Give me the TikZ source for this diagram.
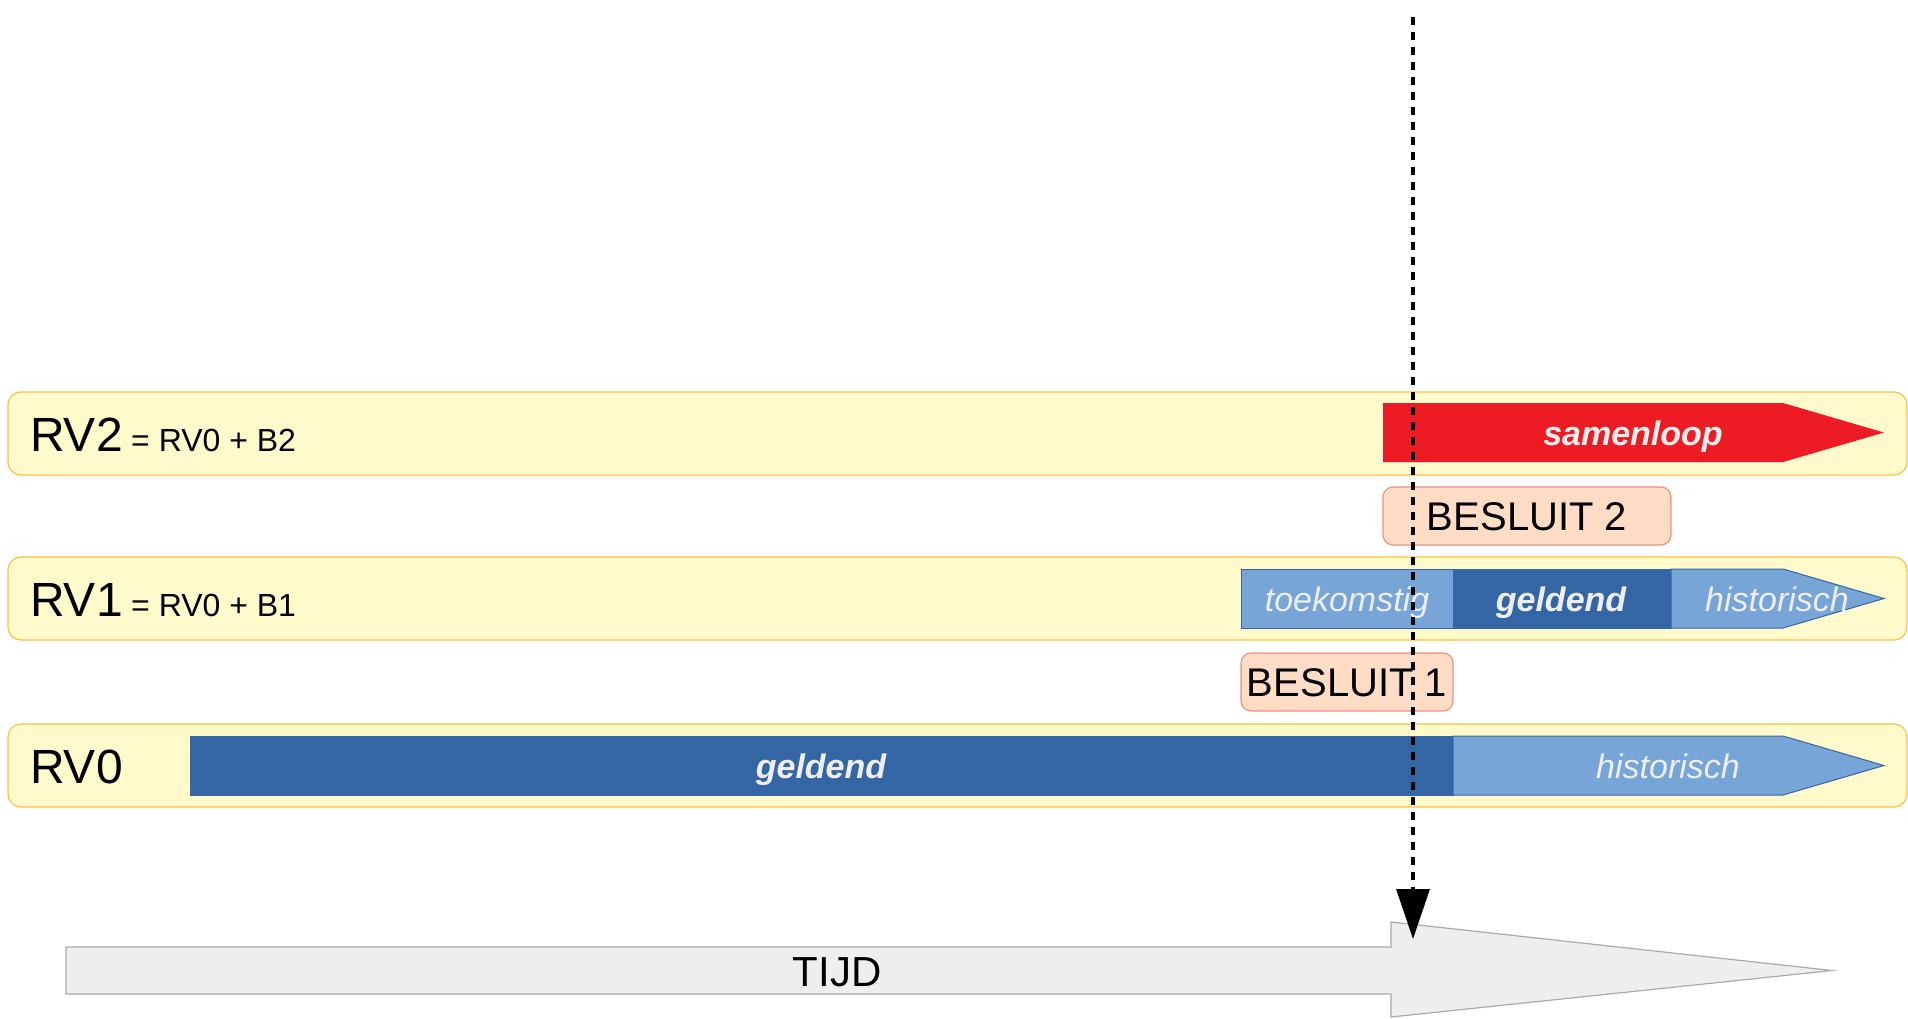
\documentclass[tikz,border=0pt]{standalone}
\usepackage{fontspec}
\setmainfont{Liberation Sans}
\usetikzlibrary{arrows.meta}
\definecolor{bandfill}{HTML}{FFFACC}
\definecolor{banddraw}{HTML}{FFBF40}
\definecolor{besfill}{HTML}{FFDCC6}
\definecolor{besdraw}{HTML}{F0907E}
\definecolor{darkblue}{HTML}{3465A4}
\definecolor{lightblue}{HTML}{78A5D8}
\definecolor{redarrow}{HTML}{ED1C24}
\definecolor{tijdfill}{HTML}{EEEEEE}
\definecolor{tijddraw}{HTML}{AAAAAA}
\definecolor{labtext}{HTML}{EEEEEE}
\tikzset{
  band/.style={draw=banddraw, fill=bandfill, line width=1.2pt, rounded corners=13pt},
  bigname/.style={anchor=base west, inner sep=0pt, font=\fontsize{48}{50}\selectfont},
  smallname/.style={anchor=base west, inner sep=0pt, font=\fontsize{32}{36}\selectfont},
  besbox/.style={draw=besdraw, fill=besfill, line width=1.2pt, rounded corners=10pt},
  bestext/.style={anchor=base, inner sep=0pt, font=\fontsize{40}{44}\selectfont},
  darkseg/.style={fill=darkblue, draw=darkblue, line width=1pt},
  lightseg/.style={fill=lightblue, draw=darkblue, line width=1pt},
  segtext/.style={anchor=base, inner sep=0pt, text=labtext, font=\fontsize{34}{38}\selectfont\itshape},
  segbold/.style={anchor=base, inner sep=0pt, text=labtext, font=\fontsize{34}{38}\selectfont\bfseries\itshape},
  tijdarrow/.style={fill=tijdfill, draw=tijddraw, line width=1.2pt},
  nowline/.style={line width=3.5pt, dash pattern=on 8pt off 7pt, -{Triangle[width=33pt,length=50pt]}}
}
\begin{document}
\begin{tikzpicture}[x=1pt,y=-1pt]
\useasboundingbox (0,0) rectangle (1908,1018);
% bands
\draw[band] (8,392) rectangle (1907,475);
\draw[band] (8,557) rectangle (1907,640);
\draw[band] (8,724) rectangle (1907,807);
% band labels
\node[bigname] (rv2) at (30,451) {RV2};
\node[smallname] (rv2s) at (131,451) {= RV0 + B2};
\node[bigname] (rv1) at (30,616) {RV1};
\node[smallname] (rv1s) at (131,616) {= RV0 + B1};
\node[bigname] (rv0) at (30,783) {RV0};
% RV2 samenloop
\fill[redarrow] (1383,403) -- (1783,403) -- (1884,432.5) -- (1783,462) -- (1383,462) -- cycle;
\node[segbold] (samenloop) at (1633,445.5) {samenloop};
% BESLUIT 2
\draw[besbox] (1383,487) rectangle (1671,545);
\node[bestext] (b2) at (1527,530.5) {BESLUIT 2};
% RV1
\draw[lightseg] (1241,569) rectangle (1453,628);
\draw[darkseg] (1453,569) rectangle (1671,628);
\draw[lightseg] (1671,569) -- (1783,569) -- (1884,598.5) -- (1783,628) -- (1671,628) -- cycle;
\node[segtext] (t1) at (1347,611.5) {toekomstig};
\node[segbold] (g1) at (1561,611.5) {geldend};
\node[segtext] (h1) at (1777,611.5) {historisch};
% BESLUIT 1
\draw[besbox] (1241,653) rectangle (1453,711);
\node[bestext] (b1) at (1347,696.5) {BESLUIT 1};
% RV0
\draw[darkseg] (190,736) rectangle (1453,795);
\draw[lightseg] (1453,736) -- (1783,736) -- (1884,765.5) -- (1783,795) -- (1453,795) -- cycle;
\node[segbold] (g0) at (821,778.5) {geldend};
\node[segtext] (h0) at (1668,778.5) {historisch};
% TIJD arrow
\draw[tijdarrow] (66,947) -- (1391,947) -- (1391,922) -- (1832,970.5) -- (1391,1017) -- (1391,994) -- (66,994) -- cycle;
\node[inner sep=0pt, anchor=base, font=\fontsize{42}{46}\selectfont] (tijd) at (837,986) {TIJD};
% now line
\coordinate (nowtop) at (1413,17);
\coordinate (nowbot) at (1413,939);
\draw[nowline] (nowtop) -- (nowbot);
\end{tikzpicture}
\end{document}
